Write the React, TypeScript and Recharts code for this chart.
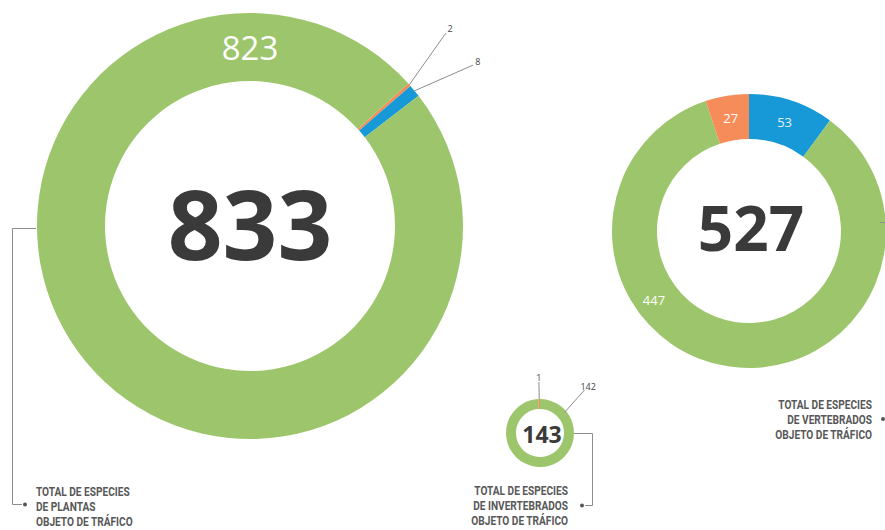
import { Cell, Pie, PieChart } from 'recharts'

const GREEN = '#9dc66c'
const ORANGE = '#f58c59'
const BLUE = '#1799d8'
const INK = '#3a3a3a'
const CAPTION = '#585858'
const LINE = '#8c8c8c'
const OPEN = "'Open Sans', sans-serif"
const CONDENSED = "Roboto, 'Liberation Sans', sans-serif"

// plantas
const plantKeys = ['naranja', 'azul', 'verde']
const plantValues = [2, 8, 823]
const plantColors = [ORANGE, BLUE, GREEN]

// vertebrados
const vertebrateKeys = ['azul', 'verde', 'naranja']
const vertebrateValues = [53, 447, 27]
const vertebrateColors = [BLUE, GREEN, ORANGE]

// invertebrados
const invertebrateKeys = ['verde', 'naranja']
const invertebrateValues = [142, 1]
const invertebrateColors = [GREEN, ORANGE]

const plantCaption = ['TOTAL DE ESPECIES', 'DE PLANTAS', 'OBJETO DE TRÁFICO']
const invertebrateCaption = ['TOTAL DE ESPECIES', 'DE INVERTEBRADOS', 'OBJETO DE TRÁFICO']
const vertebrateCaption = ['TOTAL DE ESPECIES', 'DE VERTEBRADOS', 'OBJETO DE TRÁFICO']

const toRows = (keys: string[], values: number[]) =>
  keys.map((name, i) => ({ name, value: values[i] }))
const sum = (v: number[]) => v.reduce((a, b) => a + b, 0)

const RAD = Math.PI / 180
const polar = (cx: number, cy: number, r: number, angle: number) => ({
  x: cx + r * Math.cos(-angle * RAD),
  y: cy + r * Math.sin(-angle * RAD),
})

// big ring: the large slice is labelled on top, the two thin ones get leader lines
const plantLabel = (p: any) => {
  const { cx, cy, midAngle, innerRadius, outerRadius, value, index } = p
  if (index === 2) {
    const c = polar(cx, cy, (innerRadius + outerRadius) / 2, 90)
    return (
      <text x={c.x} y={c.y} fill="#fff" fontSize={33} fontFamily={OPEN} textAnchor="middle" dominantBaseline="central">
        {value}
      </text>
    )
  }
  const a = midAngle + (index === 0 ? 3 : -3.6)
  const s = polar(cx, cy, outerRadius, midAngle)
  const e = polar(cx, cy, outerRadius + 62, a)
  const t = polar(cx, cy, outerRadius + 68, a)
  return (
    <g>
      <line x1={s.x} y1={s.y} x2={e.x} y2={e.y} stroke={LINE} strokeWidth={1} />
      <text x={t.x} y={t.y} fill="#444" stroke="none" fontSize={9} fontFamily={OPEN} textAnchor="middle" dominantBaseline="central">
        {value}
      </text>
    </g>
  )
}

const vertebrateLabel = (p: any) => {
  const { cx, cy, midAngle, innerRadius, outerRadius, value, index } = p
  const angle = index === 1 ? -144 : midAngle
  const c = polar(cx, cy, (innerRadius + outerRadius) / 2 + (index === 1 ? 3 : 0), angle)
  return (
    <text x={c.x} y={c.y} fill={index === 0 ? '#e6f3fb' : '#fff'} fontSize={13} fontFamily={OPEN} textAnchor="middle" dominantBaseline="central">
      {value}
    </text>
  )
}

const invertebrateLabel = (p: any) => {
  const { cx, cy, midAngle, outerRadius, value, index } = p
  const tiny = index === 1
  const s = polar(cx, cy, tiny ? outerRadius : outerRadius - 2, tiny ? midAngle : 40)
  const e = polar(cx, cy, outerRadius + (tiny ? 17 : 28), tiny ? midAngle : 44)
  const t = polar(cx, cy, outerRadius + (tiny ? 22 : 33), tiny ? midAngle : 44)
  return (
    <g>
      <line x1={s.x} y1={s.y} x2={e.x} y2={e.y} stroke={LINE} strokeWidth={1} />
      <text x={t.x} y={t.y} fill="#444" stroke="none" fontSize={9} fontFamily={OPEN} textAnchor="middle" dominantBaseline="central">
        {value}
      </text>
    </g>
  )
}

function Caption({ lines, x, y, anchor }: { lines: string[]; x: number; y: number; anchor: 'start' | 'end' }) {
  // the original uses a condensed face; squeeze Roboto horizontally around the anchor
  return (
    <g transform={`translate(${x} 0) scale(0.75 1) translate(${-x} 0)`}>
      <text x={x} y={y} textAnchor={anchor} fill={CAPTION} fontFamily={CONDENSED} fontWeight={700} fontSize={13.5}>
        {lines.map((l, i) => (
          <tspan key={i} x={x} dy={i === 0 ? 0 : 14.8}>
            {l}
          </tspan>
        ))}
      </text>
    </g>
  )
}

export default function App() {
  return (
    <div style={{ position: 'absolute', left: 0, top: 0, width: 885, height: 530, background: '#fff', overflow: 'hidden' }}>
      <PieChart width={885} height={530} margin={{ top: 0, right: 0, bottom: 0, left: 0 }}>
        <Pie
          data={toRows(plantKeys, plantValues)}
          dataKey="value"
          cx={250}
          cy={226}
          innerRadius={145}
          outerRadius={213}
          startAngle={42}
          endAngle={42 - 360}
          stroke="none"
          label={plantLabel}
          labelLine={false}
          isAnimationActive={false}
        >
          {plantColors.map((c, i) => (
            <Cell key={i} fill={c} />
          ))}
        </Pie>
        <Pie
          data={toRows(vertebrateKeys, vertebrateValues)}
          dataKey="value"
          cx={749}
          cy={231}
          innerRadius={92}
          outerRadius={137}
          startAngle={90}
          endAngle={-270}
          stroke="none"
          label={vertebrateLabel}
          labelLine={false}
          isAnimationActive={false}
        >
          {vertebrateColors.map((c, i) => (
            <Cell key={i} fill={c} />
          ))}
        </Pie>
        <Pie
          data={toRows(invertebrateKeys, invertebrateValues)}
          dataKey="value"
          cx={540}
          cy={433}
          innerRadius={24}
          outerRadius={34}
          startAngle={90}
          endAngle={-270}
          stroke="none"
          label={invertebrateLabel}
          labelLine={false}
          isAnimationActive={false}
        >
          {invertebrateColors.map((c, i) => (
            <Cell key={i} fill={c} />
          ))}
        </Pie>
      </PieChart>
      <svg width={885} height={530} style={{ position: 'absolute', left: 0, top: 0, pointerEvents: 'none' }}>
        <text x={250} y={222} fill={INK} fontSize={96} fontWeight={700} fontFamily={OPEN} textAnchor="middle" dominantBaseline="central">
          {sum(plantValues)}
        </text>
        <text x={751} y={227} fill={INK} fontSize={62} fontWeight={700} fontFamily={OPEN} textAnchor="middle" dominantBaseline="central">
          {sum(vertebrateValues)}
        </text>
        <text x={542} y={434} fill={INK} fontSize={23} fontWeight={700} fontFamily={OPEN} textAnchor="middle" dominantBaseline="central">
          {sum(invertebrateValues)}
        </text>

        <g stroke={LINE} strokeWidth={1} fill="none">
          <polyline points="36,228.5 12.5,228.5 12.5,504.5 22,504.5" />
          <polyline points="574,433.5 592.5,433.5 592.5,505.5 585,505.5" />
          <line x1={880} y1={222.5} x2={885} y2={222.5} />
        </g>
        <g fill="#555">
          <circle cx={25} cy={504.5} r={2} />
          <circle cx={582} cy={505.5} r={2} />
          <circle cx={883} cy={419} r={2} />
        </g>

        <Caption lines={plantCaption} x={36} y={496.5} anchor="start" />
        <Caption lines={invertebrateCaption} x={568} y={495} anchor="end" />
        <Caption lines={vertebrateCaption} x={872} y={409} anchor="end" />
      </svg>
    </div>
  )
}
